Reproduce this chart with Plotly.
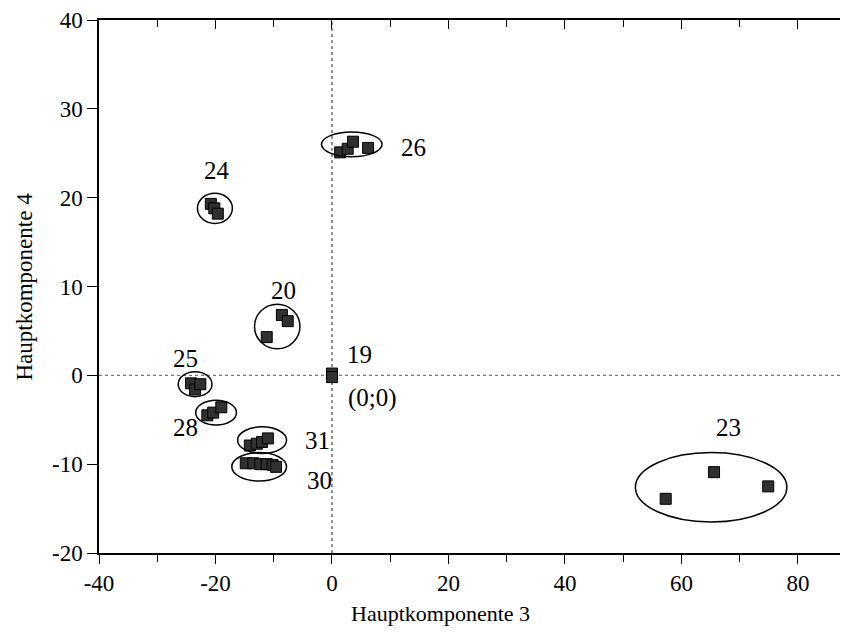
import plotly.graph_objects as go

# --- data: scores (Hauptkomponente 3, Hauptkomponente 4) ---
pc3 = [-20.8, -20.2, -19.6,            # 24
       1.4, 2.7, 3.6, 6.2,             # 26
       -8.6, -7.6, -11.2,              # 20
       -24.2, -23.5, -22.6,            # 25
       -21.4, -20.4, -19.0,            # 28
       -14.1, -12.9, -12.0, -11.0,     # 31
       -14.8, -13.5, -12.3, -11.2, -10.2, -9.6,  # 30
       0.0, 0.0,                       # 19
       65.6, 74.9, 57.3]               # 23
pc4 = [19.3, 18.8, 18.2,
       25.1, 25.5, 26.3, 25.6,
       6.8, 6.1, 4.3,
       -0.9, -1.6, -1.0,
       -4.5, -4.2, -3.6,
       -7.9, -7.7, -7.5, -7.1,
       -9.9, -9.9, -10.0, -10.0, -10.1, -10.3,
       0.2, -0.2,
       -10.9, -12.5, -13.9]

# cluster labels
label_text = ["24", "26", "20", "25", "28", "31", "30", "19", "(0;0)", "23"]
label_x = [-19.7, 14.0, -8.4, -25.2, -25.2, -2.4, -2.1, 4.8, 7.0, 68.0]
label_y = [23.1, 25.7, 9.6, 1.9, -5.9, -7.3, -11.8, 2.3, -2.6, -5.9]

# cluster ellipses (centre, half-widths in data units)
ell_cx = [-20.1, 3.4, -9.4, -23.5, -19.9, -12.0, -12.5, 65.1]
ell_cy = [18.8, 26.0, 5.5, -1.0, -4.2, -7.3, -10.3, -12.6]
ell_rx = [3.0, 5.2, 3.9, 2.9, 3.5, 4.2, 4.7, 13.0]
ell_ry = [1.7, 1.4, 2.5, 1.4, 1.4, 1.5, 1.6, 3.9]

x_ticks = [-40, -20, 0, 20, 40, 60, 80]
y_ticks = [-20, -10, 0, 10, 20, 30, 40]

XMIN, XMAX = -40, 88.6
YMIN, YMAX = -20, 40
FONT = "Liberation Serif"
PAGE_OFF = 8  # default body margin of the html page

fig = go.Figure()

# dotted zero lines
fig.add_shape(type="line", xref="x", yref="y", x0=0, x1=0, y0=YMIN, y1=YMAX,
              line=dict(color="#444", width=1.2, dash="dot"), layer="below")
fig.add_shape(type="line", xref="x", yref="y", x0=XMIN, x1=XMAX, y0=0, y1=0,
              line=dict(color="#777", width=1.2, dash="dot"), layer="below")

for cx, cy, rx, ry in zip(ell_cx, ell_cy, ell_rx, ell_ry):
    fig.add_shape(type="circle", xref="x", yref="y",
                  x0=cx - rx, x1=cx + rx, y0=cy - ry, y1=cy + ry,
                  line=dict(color="black", width=1.5))

fig.add_trace(go.Scatter(
    x=pc3, y=pc4, mode="markers",
    marker=dict(symbol="square", size=11, color="#303030",
                line=dict(color="black", width=1)),
    showlegend=False, hoverinfo="x+y"))

# invisible trace on top axis so it draws
fig.add_trace(go.Scatter(x=[XMIN], y=[YMIN], xaxis="x2", mode="markers",
                         marker=dict(opacity=0), showlegend=False, hoverinfo="skip"))

for t, x, y in zip(label_text, label_x, label_y):
    fig.add_annotation(x=x, y=y, xref="x", yref="y", text=t, showarrow=False,
                       font=dict(family=FONT, size=25, color="black"))

fig.add_annotation(x=(440 - 99) / 749, y=-(613 - 553) / 533, xref="paper", yref="paper",
                   text="Hauptkomponente 3", showarrow=False,
                   font=dict(family=FONT, size=22, color="black"),
                   xanchor="center", yanchor="middle")

fig.add_annotation(x=-(99 - 24) / 749, y=0.5, xref="paper", yref="paper",
                   text="Hauptkomponente 4", showarrow=False, textangle=-90,
                   font=dict(family=FONT, size=23, color="black"),
                   xanchor="center", yanchor="middle")

fig.update_layout(
    width=848 - PAGE_OFF, height=635 - PAGE_OFF,
    margin=dict(l=99 - PAGE_OFF, r=0, t=20 - PAGE_OFF, b=82, autoexpand=False),
    paper_bgcolor="white", plot_bgcolor="white",
    font=dict(family=FONT, size=23, color="black"),
    xaxis=dict(range=[XMIN, XMAX], tickvals=x_ticks, ticktext=[str(v) for v in x_ticks],
               automargin=False,
               showgrid=False, zeroline=False, showline=True, linecolor="black", linewidth=1.5,
               ticks="outside", ticklen=9, tickwidth=1.3, tickcolor="black",
               minor=dict(dtick=10, tick0=-40, ticks="outside", ticklen=7, tickcolor="black",
                          tickwidth=1.2, showgrid=False),
               tickfont=dict(family=FONT, size=23)),
    xaxis2=dict(range=[XMIN, XMAX], overlaying="x", side="top", tickvals=x_ticks,
                automargin=False,
                showticklabels=False, showgrid=False, zeroline=False, showline=True,
                linecolor="black", linewidth=1.5, ticks="inside", ticklen=9,
                tickwidth=1.3, tickcolor="black",
                minor=dict(dtick=10, tick0=-40, ticks="inside", ticklen=7,
                           tickcolor="black", tickwidth=1.2, showgrid=False)),
    yaxis=dict(range=[YMIN, YMAX], tickvals=y_ticks, ticktext=[str(v) for v in y_ticks],
               automargin=False,
               showgrid=False, zeroline=False, showline=True, linecolor="black", linewidth=1.5,
               ticks="outside", ticklen=10, tickwidth=1.3, tickcolor="black",
               tickfont=dict(family=FONT, size=23)),
)

fig.write_html("out.html")
